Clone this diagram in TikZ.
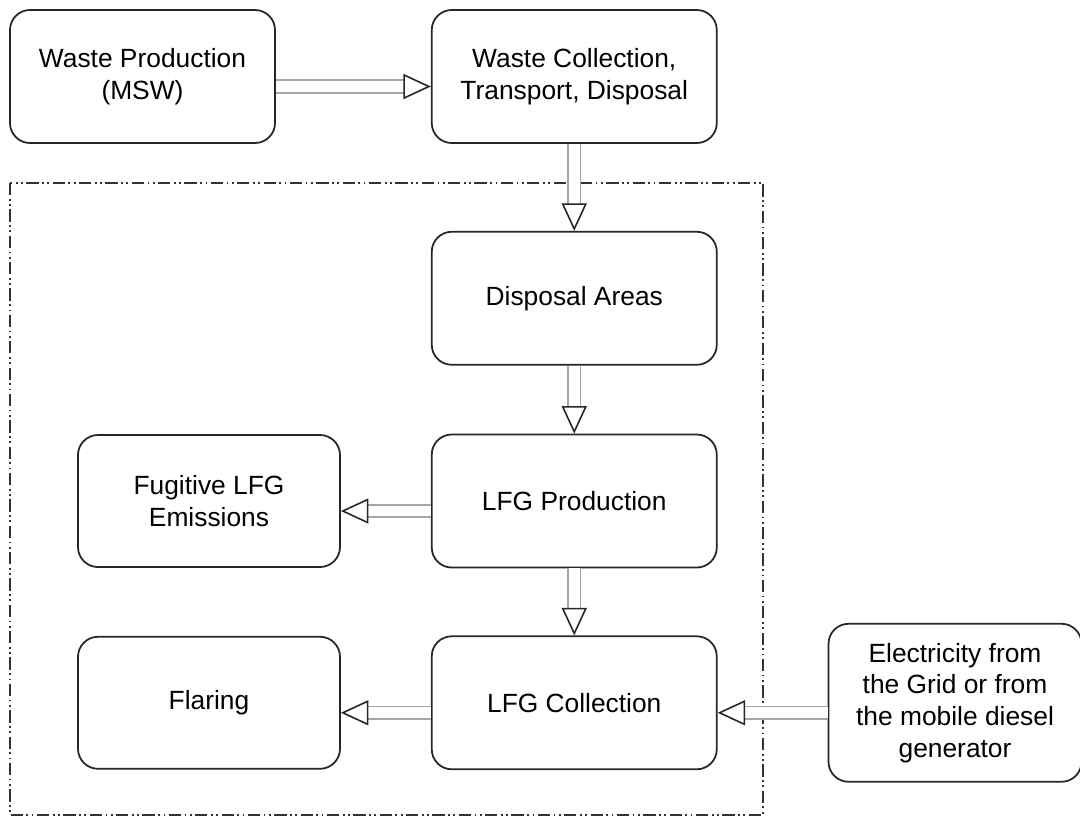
\documentclass[tikz,border=0pt]{standalone}
\usepackage{fontspec}
\setmainfont{Liberation Sans}
\usetikzlibrary{arrows.meta, positioning}

\begin{document}
\begin{tikzpicture}[
every node/.style={font=\fontsize{15}{18}\selectfont, align=center},
stage/.style={rectangle, rounded corners=0.4cm, draw=black!85, line width=1pt, minimum width=5.7cm, minimum height=2.66cm, inner sep=4pt},
side/.style={stage, minimum width=5.24cm, minimum height=2.64cm},
flow/.style={draw=gray!70, line width=0.9pt, double=white, double distance=6.2pt, -{Triangle[length=0.55cm, width=0.5cm, fill=white, color=black!85, line width=0.9pt]}}
]
\useasboundingbox (0,0) rectangle (21.6,-16.42);
% project boundary
\draw[black!80, line width=0.8pt, dash pattern=on 7pt off 2pt on 1pt off 2pt on 1pt off 2pt] (0.2,-3.66) rectangle (15.26,-16.3);
% Nodes
\node[stage, minimum width=5.3cm] (wp) at (2.85,-1.53) {Waste Production\\(MSW)};
\node[stage, right=3.1cm of wp] (wc) {Waste Collection,\\Transport, Disposal};
\node[stage, below=1.74cm of wc] (da) {Disposal Areas};
\node[stage, below=1.36cm of da] (lp) {LFG Production};
\node[stage, below=1.34cm of lp] (lc) {LFG Collection};
\node[side, left=1.8cm of lp] (fu) {Fugitive LFG\\Emissions};
\node[side, left=1.8cm of lc] (fl) {Flaring};
\node[stage, right=2.2cm of lc, minimum width=5.06cm, minimum height=3.16cm] (el) {Electricity from\\the Grid or from\\the mobile diesel\\generator};
% Arrows
\draw[flow] ([yshift=-0.2cm]wp.east) -- ([yshift=-0.2cm]wc.west);
\draw[flow] (wc.south) -- (da.north);
\draw[flow] (da.south) -- (lp.north);
\draw[flow] ([yshift=-0.2cm]lp.west) -- ([yshift=-0.2cm]fu.east);
\draw[flow] (lp.south) -- (lc.north);
\draw[flow] ([yshift=-0.2cm]lc.west) -- ([yshift=-0.2cm]fl.east);
\draw[flow] ([yshift=-0.2cm]el.west) -- ([yshift=-0.2cm]lc.east);
\end{tikzpicture}
\end{document}
